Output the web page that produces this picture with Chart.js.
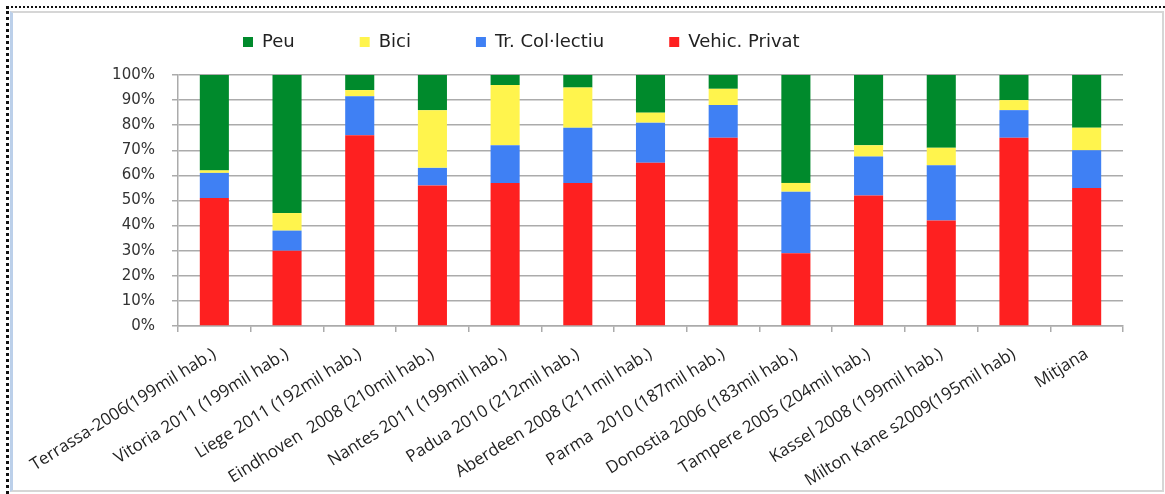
<!DOCTYPE html>
<html>
<head>
<meta charset="utf-8">
<script src="https://cdn.jsdelivr.net/npm/chart.js@4/dist/chart.umd.min.js"></script>
<style>
html,body{margin:0;padding:0;background:#fff;}
#dots{position:absolute;left:6px;top:6px;width:1159px;height:488px;border-top:2px dotted #111;border-left:3px dotted #111;box-sizing:border-box;}
#frame{position:absolute;left:10px;top:11px;width:1154px;height:481px;border:2px solid #d6d6d6;border-left:3px solid #bcd0ea;box-sizing:border-box;background:#fff;}
#wrap{position:absolute;left:12px;top:13px;width:1150px;height:478px;}
</style>
</head>
<body>
<div id="dots"></div>
<div id="frame"></div>
<div id="wrap"><canvas id="c" width="1150" height="478"></canvas></div>
<script>
const categories = [
  "Terrassa-2006(199mil hab.)",
  "Vitoria 2011 (199mil hab.)",
  "Liege 2011 (192mil hab.)",
  "Eindhoven  2008 (210mil hab.)",
  "Nantes 2011 (199mil hab.)",
  "Padua 2010 (212mil hab.)",
  "Aberdeen 2008 (211mil hab.)",
  "Parma  2010 (187mil hab.)",
  "Donostia 2006 (183mil hab.)",
  "Tampere 2005 (204mil hab.)",
  "Kassel 2008 (199mil hab.)",
  "Milton Kane s2009(195mil hab)",
  "Mitjana"
];
const vehicPrivat = [51, 30, 76, 56, 57, 57, 65, 75, 29, 52, 42, 75, 55];
const trColectiu  = [10, 8, 15.5, 7, 15, 22, 16, 13, 24.5, 15.5, 22, 11, 15];
const bici        = [1, 7, 2.5, 23, 24, 16, 4, 6.5, 3.5, 4.5, 7, 4, 9];
const peu         = [38, 55, 6, 14, 4, 5, 15, 5.5, 43, 28, 29, 10, 21];
const seriesNames = ["Vehic. Privat", "Tr. Col·lectiu", "Bici", "Peu"];
const yTickStep = 10;
const yMax = 100;

const colors = ["#fe2020", "#3f80f4", "#fff44d", "#008a2c"];
const seriesData = [vehicPrivat, trColectiu, bici, peu];

const gridGray = "#ababab";

new Chart(document.getElementById("c"), {
  type: "bar",
  data: {
    labels: categories,
    datasets: seriesNames.map((name, i) => ({
      label: name,
      data: seriesData[i],
      backgroundColor: colors[i],
      borderWidth: 0,
      categoryPercentage: 1.0,
      barPercentage: 0.4
    }))
  },
  options: {
    responsive: false,
    devicePixelRatio: 1,
    animation: false,
    layout: { padding: { top: -45, left: 80, right: 39, bottom: 0 } },
    plugins: {
      tooltip: { enabled: false },
      title: {
        display: true,
        text: "",
        position: "top",
        weight: 500,
        padding: 0,
        font: { size: 10, lineHeight: 1.4 }
      },
      legend: {
        display: true,
        position: "top",
        align: "start",
        fullSize: false,
        reverse: true,
        labels: {
          boxWidth: 10,
          boxHeight: 10,
          padding: 65,
          color: "#222",
          font: { family: "DejaVu Sans", size: 18 }
        }
      }
    },
    scales: {
      x: {
        stacked: true,
        offset: true,
        grid: {
          display: true,
          offset: true,
          drawOnChartArea: false,
          drawTicks: true,
          tickLength: 6,
          color: gridGray,
          lineWidth: 1.5
        },
        border: { display: true, color: gridGray, width: 1.5 },
        ticks: {
          autoSkip: false,
          minRotation: 32,
          maxRotation: 32,
          padding: 12,
          color: "#222",
          font: { family: "Open Sans", size: 17 }
        },
        afterFit: (scale) => { scale.height = 165; }
      },
      y: {
        stacked: true,
        min: 0,
        max: yMax,
        grid: {
          color: gridGray,
          lineWidth: 1.5,
          drawTicks: true,
          tickLength: 6
        },
        border: { display: true, color: gridGray, width: 1.5 },
        ticks: {
          stepSize: yTickStep,
          padding: 17,
          color: "#333",
          font: { family: "DejaVu Sans", size: 15 },
          callback: (v) => v + "%"
        },
        afterFit: (scale) => { scale.width = 86; }
      }
    }
  }
});
</script>
</body>
</html>
